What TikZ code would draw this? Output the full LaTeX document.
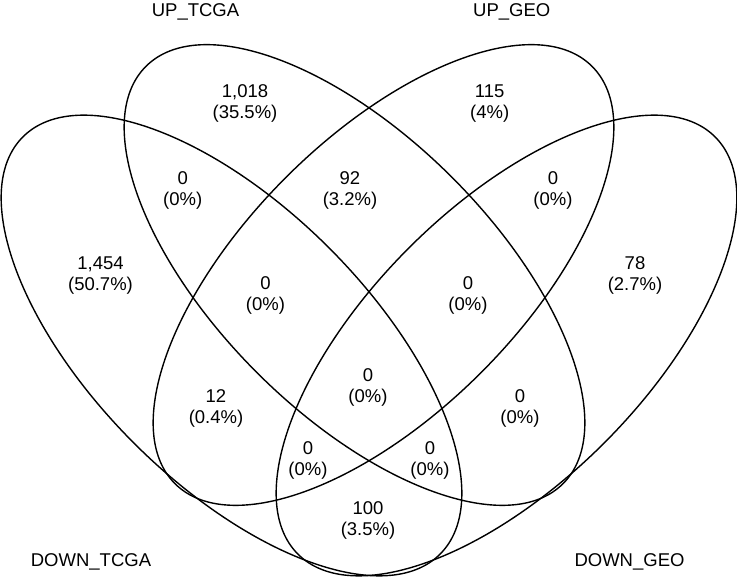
\documentclass[tikz,border=0pt]{standalone}
\usepackage{fontspec}
\setmainfont{Liberation Sans}
\usetikzlibrary{positioning}
\tikzset{
  setline/.style={line width=1.4pt, draw=black},
  setname/.style={font=\fontsize{18.5}{20.5}\selectfont, anchor=base, inner sep=0pt},
  count/.style={font=\fontsize{18.5}{20.5}\selectfont, align=center, inner sep=0pt},
}
\begin{document}
\begin{tikzpicture}[x=1pt,y=1pt]
  \useasboundingbox (0,0) rectangle (737,578);

  % the four sets
  \foreach \cx/\cy/\ang in {231.5/232.5/-45, 354.5/303/-45, 383.5/303/45, 506.5/232.5/45}{
    \draw[setline, rotate around={\ang:(\cx,\cy)}]
      (\cx,\cy) ellipse [x radius=295pt, y radius=138pt];
  }

  % set names
  \node[setname] (upTCGA)   at (195.5,561) {UP\_TCGA};
  \node[setname] (upGEO)    at (511.7,561) {UP\_GEO};
  \node[setname] (downTCGA) at (91,11)     {DOWN\_TCGA};
  \node[setname] (downGEO)  at (629.5,11)  {DOWN\_GEO};

  % region counts
  \foreach \nm/\x/\y/\n/\p in {
      ut/245/474.4/{1,018}/35.5,
      ug/489.7/474.4/115/4,
      dt-ut/182.7/387.4/0/0,
      ut-ug/350/387.4/92/3.2,
      ug-dg/553/387.4/0/0,
      dt/100.5/302.4/{1,454}/50.7,
      dg/635/302.4/78/2.7,
      dt-ut-ug/265.5/282.4/0/0,
      ut-ug-dg/468/282.4/0/0,
      all/368/190.4/0/0,
      dt-ug/216/169.4/12/0.4,
      ut-dg/520/169.4/0/0,
      dt-ug-dg/308/117.4/0/0,
      dt-ut-dg/430/117.4/0/0,
      dt-dg/368/57.4/100/3.5}{
    \node[count] (\nm) at (\x,\y) {\n\\(\p\%)};
  }
\end{tikzpicture}
\end{document}
